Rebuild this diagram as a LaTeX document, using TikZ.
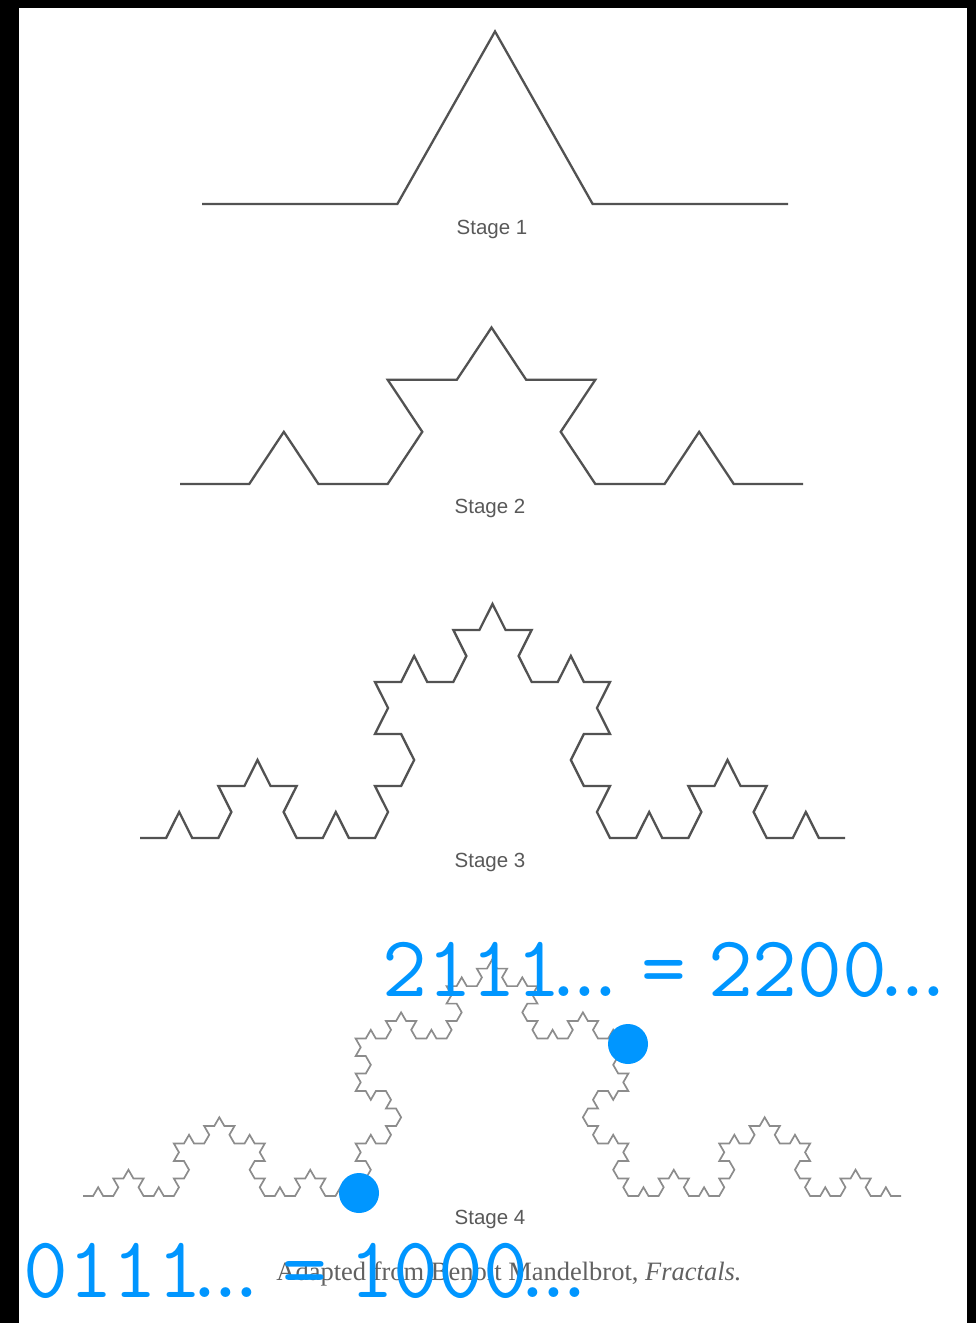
\documentclass[tikz,border=0pt]{standalone}
\usepackage{fontspec}
\setmainfont{Liberation Serif}
\newfontfamily\stagefont{Liberation Sans}
\definecolor{dotblue}{RGB}{0,150,255}
\tikzset{
  kochline/.style={line width=2.3pt, draw=black!68, line join=miter},
  kochlight/.style={line width=1.7pt, draw=black!45, line join=miter},
  stagelabel/.style={font=\stagefont\fontsize{20.5}{20.5}\selectfont, text=black!65, inner sep=0pt},
  caption/.style={font=\fontsize{26.5}{26.5}\selectfont, text=black!62, inner sep=0pt, anchor=base},
  bluelabel/.style={font=\ttfamily\fontsize{87}{87}\selectfont\addfontfeature{FakeBold=1.2}, text=dotblue, inner sep=0pt, anchor=base west},
  bluedot/.style={circle, fill=dotblue, minimum size=40pt, inner sep=0pt},
}
\newcommand\tdots[1]{\kern#1pt.\kern-23.7pt.\kern-23.7pt.}
% #1 order, #2 x0, #3 y0, #4 length, #5 yscale, #6 style
\newcommand\kochdraw[6]{%
  \begin{scope}[shift={(#2,#3)}, yscale=#5]
    \pgfmathsetmacro\kochlen{#4/3^#1}
    \pgfmathtruncatemacro\kochlast{4^#1-1}
    \draw[#6] (0,0) \foreach \k [evaluate=\k as \ang using {-60*((mod(\k,4)==1)-(mod(\k,4)==2)+(mod(floor(\k/4),4)==1)-(mod(floor(\k/4),4)==2)+(mod(floor(\k/16),4)==1)-(mod(floor(\k/16),4)==2)+(mod(floor(\k/64),4)==1)-(mod(floor(\k/64),4)==2))}] in {0,...,\kochlast} { -- ++(\ang:\kochlen) };
  \end{scope}}
\begin{document}
\begin{tikzpicture}[x=1pt, y=-1pt]
\useasboundingbox (0,0) rectangle (976,1323);
\fill[black] (0,0) rectangle (976,1323);
\fill[white] (19,8) rectangle (967,1323);
% curves
\kochdraw{1}{202}{204}{586}{1.02}{kochline}
\kochdraw{2}{180}{484}{623}{0.87}{kochline}
\kochdraw{3}{140}{838}{705}{1.15}{kochline}
\kochdraw{4}{83}{1196}{818}{1.0}{kochlight}
% labels
\node[stagelabel] (s1) at (492,229) {Stage 1};
\node[stagelabel] (s2) at (490,508) {Stage 2};
\node[stagelabel] (s3) at (490,862) {Stage 3};
\node[stagelabel] (s4) at (490,1219) {Stage 4};
\node[caption] (cap) at (509,1280) {Adapted from Benoit Mandelbrot, \textit{Fractals.}};
% blue annotations
\node[bluedot] (d1) at (359,1193) {};
\node[bluedot] (d2) at (628,1044) {};
\node[bluelabel] (t2) at (382,996) {2111\tdots{-20}\kern13pt=\kern22pt2200\tdots{-18}};
\node[bluelabel] (t1) at (23,1297) {0111\tdots{-20}\kern13pt=\kern22pt1000\tdots{-18}};
\end{tikzpicture}
\end{document}
